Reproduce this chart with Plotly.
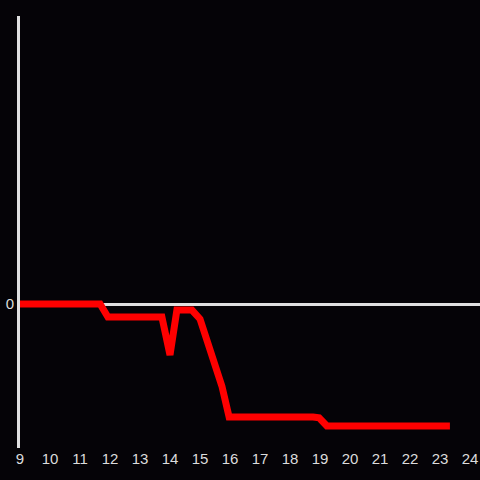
import plotly.graph_objects as go

hours = [9, 11.67, 11.93, 13.73, 14.0, 14.23, 14.73, 15.0, 15.73, 15.97, 18.77, 18.97, 19.23, 23.33]
values = [0, 0, -0.09, -0.09, -0.354, -0.042, -0.042, -0.104, -0.57, -0.785, -0.785, -0.79, -0.847, -0.847]
x_ticks = list(range(9, 25))

fig = go.Figure()
fig.add_trace(go.Scatter(
    x=hours, y=values, mode="lines",
    line=dict(color="#ff0000", width=7),
    hoverinfo="skip",
))

fig.update_layout(
    width=480, height=480,
    margin=dict(l=20, r=0, t=16, b=32),
    paper_bgcolor="#050307",
    plot_bgcolor="#050307",
    showlegend=False,
    font=dict(family="Liberation Sans", size=15, color="#dcdcdc"),
    xaxis=dict(
        range=[9, 24.333], tickvals=x_ticks, showgrid=False, zeroline=False,
        showline=False, ticks="", ticklen=0, automargin=False,
    ),
    yaxis=dict(
        range=[-1, 2], tickvals=[0], showgrid=False,
        zeroline=True, zerolinecolor="#e0e0e0", zerolinewidth=3,
        showline=True, linecolor="#e0e0e0", linewidth=3,
        ticks="", ticklabelstandoff=0, automargin=False,
    ),
)

# drop the page's default body margin so the figure fills the window
fig.write_html(
    "out.html",
    config={"displayModeBar": False},
    post_script="document.body.style.margin='0';document.body.style.background='#050307';",
)
